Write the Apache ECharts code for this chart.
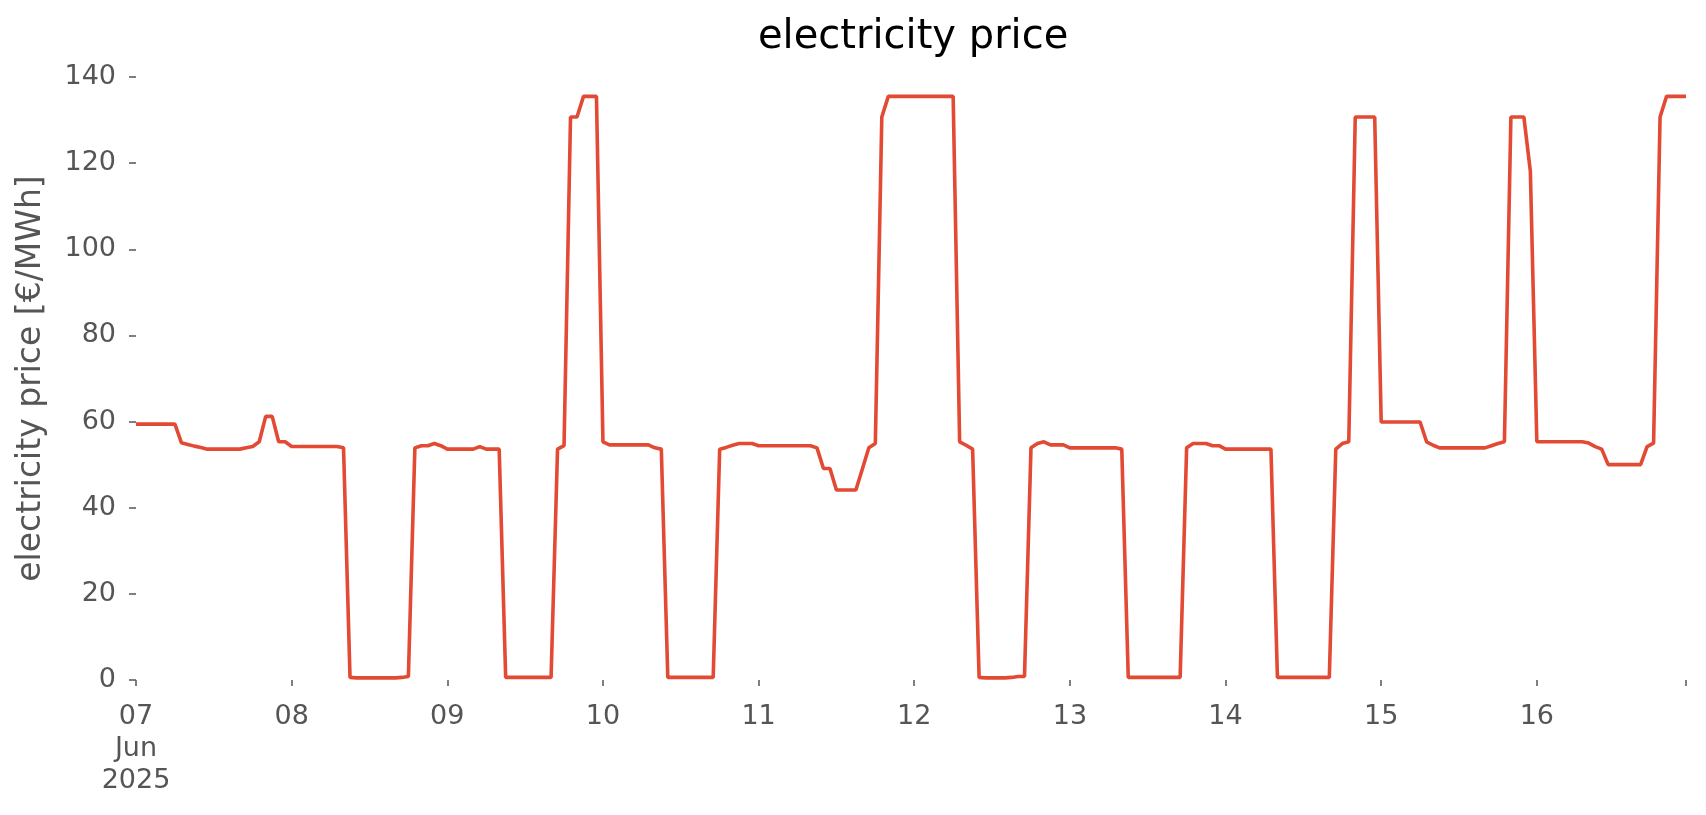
<!DOCTYPE html>
<html>
<head>
<meta charset="utf-8">
<script src="https://cdn.jsdelivr.net/npm/echarts@6/dist/echarts.min.js"></script>
<style>
html,body{margin:0;padding:0;background:#fff;}
#chart{width:1706px;height:815px;}
</style>
</head>
<body>
<div id="chart"></div>
<script>
// Hourly electricity price, 07 Jun 2025 00:00 .. 16 Jun 2025 23:00 (€/MWh)
const day07 = [59.4,59.4,59.4,59.4,59.4,59.4,59.4,55.1,54.7,54.3,54.0,53.6,53.6,53.6,53.6,53.6,53.6,53.9,54.2,55.3,61.2,61.2,55.3,55.3];
const day08 = [54.2,54.2,54.2,54.2,54.2,54.2,54.2,54.2,53.9,0.6,0.5,0.5,0.5,0.5,0.5,0.5,0.5,0.6,0.8,53.9,54.4,54.4,54.9,54.4];
const day09 = [53.6,53.6,53.6,53.6,53.6,54.2,53.6,53.6,53.6,0.6,0.6,0.6,0.6,0.6,0.6,0.6,0.6,53.6,54.4,130.7,130.7,135.5,135.5,135.5];
const day10 = [55.3,54.6,54.6,54.6,54.6,54.6,54.6,54.6,53.9,53.6,0.6,0.6,0.6,0.6,0.6,0.6,0.6,0.6,53.6,54.0,54.5,54.9,54.9,54.9];
const day11 = [54.4,54.4,54.4,54.4,54.4,54.4,54.4,54.4,54.4,53.9,49.1,49.1,44.1,44.1,44.1,44.1,49.0,53.9,54.9,130.7,135.5,135.5,135.5,135.5];
const day12 = [135.5,135.5,135.5,135.5,135.5,135.5,135.5,55.3,54.5,53.6,0.6,0.5,0.5,0.5,0.5,0.6,0.8,0.8,53.9,54.9,55.3,54.6,54.6,54.6];
const day13 = [53.9,53.9,53.9,53.9,53.9,53.9,53.9,53.9,53.6,0.6,0.6,0.6,0.6,0.6,0.6,0.6,0.6,0.6,53.9,54.9,54.9,54.9,54.4,54.4];
const day14 = [53.6,53.6,53.6,53.6,53.6,53.6,53.6,53.6,0.6,0.6,0.6,0.6,0.6,0.6,0.6,0.6,0.6,53.6,54.9,55.3,130.7,130.7,130.7,130.7];
const day15 = [59.9,59.9,59.9,59.9,59.9,59.9,59.9,55.3,54.5,53.9,53.9,53.9,53.9,53.9,53.9,53.9,53.9,54.4,54.9,55.3,130.7,130.7,130.7,118.1];
const day16 = [55.3,55.3,55.3,55.3,55.3,55.3,55.3,55.3,55.0,54.2,53.6,50.0,50.0,50.0,50.0,50.0,50.0,54.2,55.0,130.7,135.5,135.5,135.5,135.5];

const dayLabels = ['07','08','09','10','11','12','13','14','15','16'];
const firstLabelExtra = 'Jun\n2025';
const yTicks = [0,20,40,60,80,100,120,140];

const prices = [].concat(day07, day08, day09, day10, day11, day12, day13, day14, day15, day16);
const hours = prices.map((_, i) => i);
const seriesData = hours.map((h, i) => [h, prices[i]]);
const lastHour = hours[hours.length - 1];
const dayStarts = dayLabels.map((_, i) => i * 24);

const chart = echarts.init(document.getElementById('chart'), null, {renderer: 'canvas'});
const font = 'DejaVu Sans';
chart.setOption({
  animation: false,
  backgroundColor: '#ffffff',
  title: {
    text: 'electricity price',
    left: 753,
    top: 13,
    textStyle: {fontFamily: font, fontSize: 40, fontWeight: 'normal', color: '#000000'}
  },
  grid: {left: 136, right: 20, top: 77, bottom: 135, containLabel: false},
  xAxis: {
    type: 'value',
    min: 0,
    max: lastHour,
    interval: 24,
    axisLine: {show: false},
    splitLine: {show: false},
    axisTick: {show: true, length: 6, lineStyle: {color: '#555555', width: 1.5}, customValues: dayStarts.concat([lastHour])},
    axisLabel: {
      customValues: dayStarts,
      margin: 21,
      fontFamily: font,
      fontSize: 27,
      lineHeight: 32,
      color: '#555555',
      formatter: function (v) {
        const idx = Math.round(v / 24);
        const lab = dayLabels[idx];
        if (lab === undefined) return '';
        return idx === 0 ? lab + '\n' + firstLabelExtra : lab;
      }
    }
  },
  yAxis: {
    type: 'value',
    min: yTicks[0],
    max: yTicks[yTicks.length - 1],
    interval: 20,
    name: 'electricity price [€/MWh]',
    nameLocation: 'middle',
    nameGap: 88,
    nameTextStyle: {fontFamily: font, fontSize: 33, color: '#555555'},
    axisLine: {show: false},
    splitLine: {show: false},
    axisTick: {show: true, length: 7, lineStyle: {color: '#555555', width: 1.5}},
    axisLabel: {margin: 20, fontFamily: font, fontSize: 27, color: '#555555'}
  },
  series: [{
    type: 'line',
    data: seriesData,
    showSymbol: false,
    lineStyle: {color: '#E24A33', width: 3.6},
    itemStyle: {color: '#E24A33'}
  }]
});
</script>
</body>
</html>
